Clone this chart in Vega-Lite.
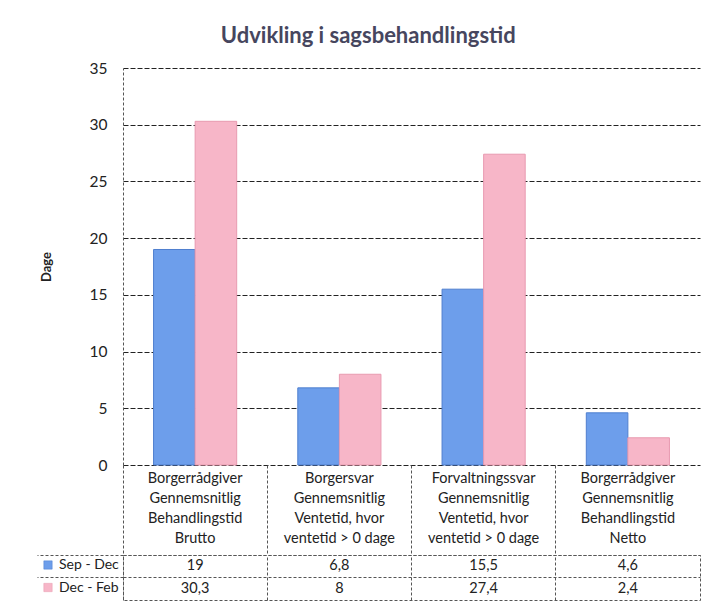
{
  "$schema": "https://vega.github.io/schema/vega-lite/v6.json",
  "padding": {"left": 36, "top": 25, "right": 0, "bottom": 0},
  "background": "white",
  "config": {
    "font": "Lato",
    "locale": {"number": {"decimal": ",", "thousands": ".", "grouping": [3], "currency": ["", " kr."]}},
    "view": {"stroke": null},
    "concat": {"spacing": 0}
  },
  "title": {"text": "Udvikling i sagsbehandlingstid", "fontSize": 22, "font": "Lato", "fontWeight": "bold", "color": "#46465e", "anchor": "middle", "offset": 13},
  "data": {"values": [
    {"cat": "Borgerrådgiver|Gennemsnitlig|Behandlingstid|Brutto", "series": "Sep - Dec", "value": 19},
    {"cat": "Borgerrådgiver|Gennemsnitlig|Behandlingstid|Brutto", "series": "Dec - Feb", "value": 30.3},
    {"cat": "Borgersvar|Gennemsnitlig|Ventetid, hvor|ventetid > 0 dage", "series": "Sep - Dec", "value": 6.8},
    {"cat": "Borgersvar|Gennemsnitlig|Ventetid, hvor|ventetid > 0 dage", "series": "Dec - Feb", "value": 8},
    {"cat": "Forvaltningssvar|Gennemsnitlig|Ventetid, hvor|ventetid > 0 dage", "series": "Sep - Dec", "value": 15.5},
    {"cat": "Forvaltningssvar|Gennemsnitlig|Ventetid, hvor|ventetid > 0 dage", "series": "Dec - Feb", "value": 27.4},
    {"cat": "Borgerrådgiver|Gennemsnitlig|Behandlingstid|Netto", "series": "Sep - Dec", "value": 4.6},
    {"cat": "Borgerrådgiver|Gennemsnitlig|Behandlingstid|Netto", "series": "Dec - Feb", "value": 2.4}
  ]},
  "spacing": 0,
  "vconcat": [
    {
      "width": 577,
      "height": 397,
      "mark": {"type": "bar", "strokeWidth": 1},
      "encoding": {
        "x": {"field": "cat", "type": "nominal", "sort": null,
          "scale": {"paddingInner": 0, "paddingOuter": 0},
          "axis": {"title": null, "labelAngle": 0, "bandPosition": 0, "tickSize": 88, "tickColor": "#555", "tickDash": [3, 2],
            "labelPadding": -82, "labelExpr": "split(datum.label, '|')", "labelFontSize": 14.5, "labelLineHeight": 20,
            "labelColor": "#222", "domain": false, "labelOverlap": false, "labelLimit": 300}},
        "xOffset": {"field": "series", "sort": null, "scale": {"paddingInner": 0, "paddingOuter": 0.735}},
        "y": {"field": "value", "type": "quantitative", "scale": {"domain": [0, 35]},
          "axis": {"values": [0, 5, 10, 15, 20, 25, 30, 35], "title": "Dage", "titleFontSize": 13, "titleFontWeight": "bold", "titleColor": "#222", "titlePadding": 36,
            "grid": true, "gridColor": "#222", "gridDash": [5, 2], "gridOpacity": 1, "ticks": false, "labelPadding": 16, "labelFontSize": 15.5, "labelColor": "#222",
            "domain": true, "domainColor": "#555", "domainDash": [3, 2]}},
        "color": {"field": "series", "type": "nominal", "sort": null,
          "scale": {"domain": ["Sep - Dec", "Dec - Feb"], "range": ["#6d9eeb", "#f7b6c8"]},
          "legend": {"title": null, "orient": "none", "legendX": -82, "legendY": 490, "symbolType": "square", "symbolSize": 70,
            "symbolStrokeColor": "#8aa", "symbolStrokeWidth": 0.5, "labelFontSize": 14, "labelColor": "#222", "rowPadding": 8.5, "labelOffset": 4}},
        "stroke": {"field": "series", "type": "nominal", "sort": null,
          "scale": {"domain": ["Sep - Dec", "Dec - Feb"], "range": ["#4f7fcf", "#e89ab0"]}, "legend": null}
      }
    },
    {
      "width": 577,
      "height": 45,
      "view": {"stroke": "#555", "strokeDash": [3, 2]},
      "mark": {"type": "text", "fontSize": 14.5, "color": "#222"},
      "encoding": {
        "x": {"field": "cat", "type": "nominal", "sort": null,
          "scale": {"type": "band", "paddingInner": 0, "paddingOuter": 0},
          "axis": {"title": null, "labels": false, "ticks": false, "domain": false, "grid": true, "bandPosition": 0, "gridColor": "#555", "gridDash": [3, 2]}},
        "y": {"field": "series", "type": "nominal", "sort": null,
          "scale": {"type": "band", "domain": ["Sep - Dec", "Dec - Feb"], "paddingInner": 0, "paddingOuter": 0},
          "axis": {"title": null, "labels": false, "ticks": true, "bandPosition": 0, "tickSize": 86, "tickColor": "#555", "tickDash": [3, 2],
            "grid": true, "gridColor": "#555", "gridDash": [3, 2], "domain": false}},
        "text": {"field": "value", "type": "quantitative"}
      }
    }
  ]
}
